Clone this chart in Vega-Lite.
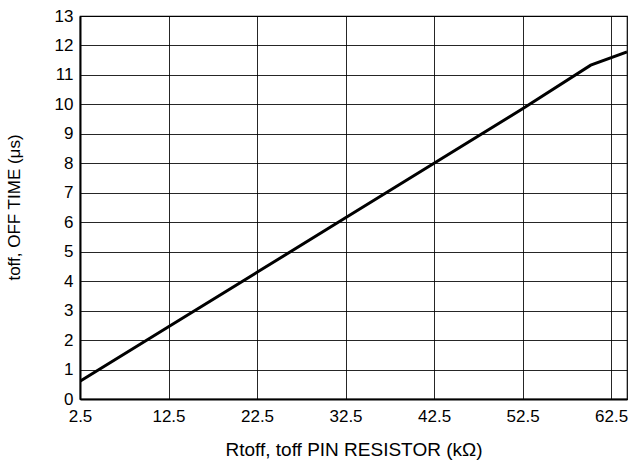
{
  "$schema": "https://vega.github.io/schema/vega-lite/v6.json",
  "autosize": "none",
  "width": 547,
  "height": 383,
  "padding": {"left": 80, "top": 16, "right": 2, "bottom": 73},
  "background": "white",
  "config": {
    "font": "Liberation Sans",
    "view": {"stroke": "black", "strokeWidth": 1.2}
  },
  "data": {
    "values": [
      {"r": 2.5, "t": 0.6},
      {"r": 12.5, "t": 2.45},
      {"r": 22.5, "t": 4.3},
      {"r": 32.5, "t": 6.15},
      {"r": 42.5, "t": 8.0},
      {"r": 52.5, "t": 9.85},
      {"r": 60.2, "t": 11.33},
      {"r": 64.3, "t": 11.78}
    ]
  },
  "mark": {"type": "line", "color": "black", "strokeWidth": 3, "clip": true},
  "encoding": {
    "x": {
      "field": "r",
      "type": "quantitative",
      "scale": {"domain": [2.5, 64.3], "nice": false, "zero": false},
      "axis": {
        "title": "Rtoff, toff PIN RESISTOR (kΩ)",
        "values": [2.5, 12.5, 22.5, 32.5, 42.5, 52.5, 62.5],
        "format": ".1f",
        "ticks": false,
        "labelPadding": 9,
        "labelFontSize": 17,
        "labelColor": "black",
        "labelFlush": false,
        "domainColor": "black",
        "domainWidth": 2,
        "gridColor": "black",
        "gridOpacity": 0.85,
        "gridWidth": 1,
        "titleFontSize": 19,
        "titleFontWeight": "normal",
        "titleColor": "black",
        "titleY": 41,
        "titleBaseline": "top"
      }
    },
    "y": {
      "field": "t",
      "type": "quantitative",
      "scale": {"domain": [0, 13], "nice": false},
      "axis": {
        "title": "toff, OFF TIME (μs)",
        "values": [0, 1, 2, 3, 4, 5, 6, 7, 8, 9, 10, 11, 12, 13],
        "ticks": false,
        "labelPadding": 7,
        "labelFontSize": 17,
        "labelColor": "black",
        "labelFlush": false,
        "domainColor": "black",
        "domainWidth": 2,
        "gridColor": "black",
        "gridOpacity": 0.85,
        "gridWidth": 1,
        "titleFontSize": 17,
        "titleFontWeight": "normal",
        "titleColor": "black",
        "titleX": -57,
        "titleY": 191,
        "titleAngle": -90,
        "titleAlign": "center"
      }
    }
  }
}
